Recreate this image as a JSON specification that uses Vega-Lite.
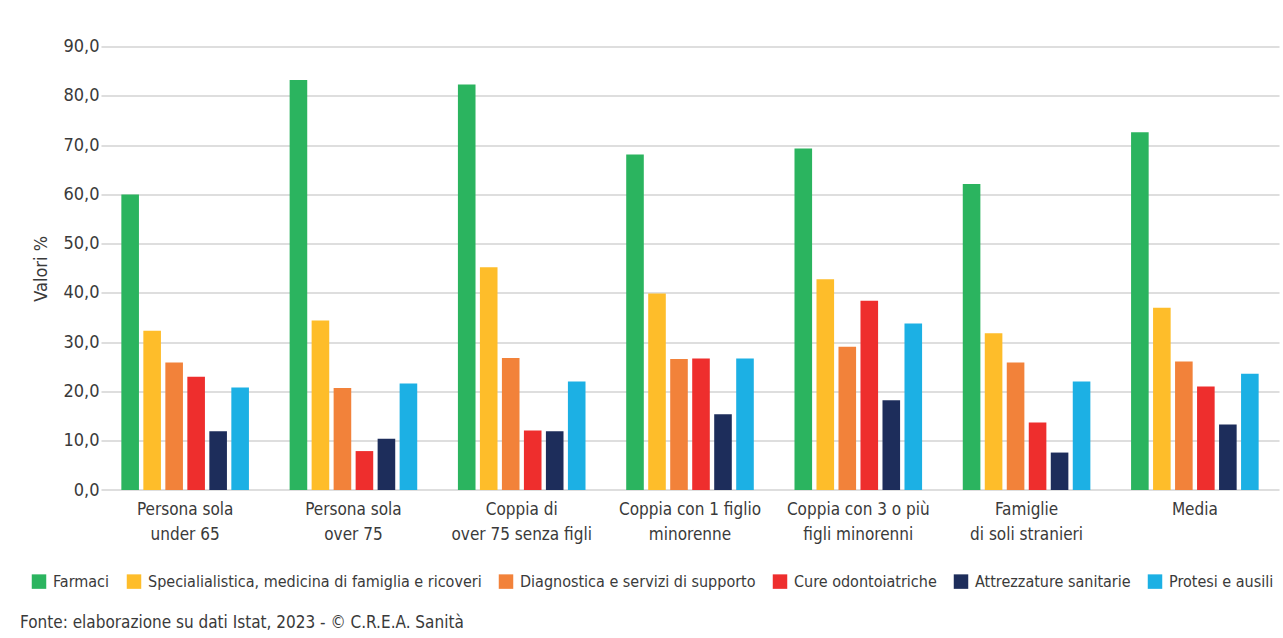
{
  "$schema": "https://vega.github.io/schema/vega-lite/v6.json",
  "autosize": {"type": "none"},
  "width": 1178,
  "height": 443.4,
  "padding": {"left": 101, "top": 46.6, "right": 4, "bottom": 148},
  "background": "white",
  "config": {
    "font": "DejaVu Sans Condensed, sans-serif",
    "view": {"stroke": null},
    "axis": {"labelColor": "#3a3a3a", "titleColor": "#3a3a3a", "labelFont": "DejaVu Sans Condensed, sans-serif", "titleFont": "DejaVu Sans Condensed, sans-serif"}
  },
  "title": {
    "text": "Fonte: elaborazione su dati Istat, 2023 - © C.R.E.A. Sanità",
    "orient": "bottom",
    "anchor": "start",
    "frame": "group",
    "dx": -81,
    "offset": 25,
    "fontSize": 17,
    "fontWeight": "normal",
    "color": "#3a3a3a",
    "font": "DejaVu Sans Condensed, sans-serif"
  },
  "data": {
    "values": [
      {"categoria": "Persona sola\nunder 65", "voce": "Farmaci", "valore": 60.0},
      {"categoria": "Persona sola\nunder 65", "voce": "Specialialistica, medicina di famiglia e ricoveri", "valore": 32.3},
      {"categoria": "Persona sola\nunder 65", "voce": "Diagnostica e servizi di supporto", "valore": 25.9},
      {"categoria": "Persona sola\nunder 65", "voce": "Cure odontoiatriche", "valore": 23.0},
      {"categoria": "Persona sola\nunder 65", "voce": "Attrezzature sanitarie", "valore": 11.9},
      {"categoria": "Persona sola\nunder 65", "voce": "Protesi e ausili", "valore": 20.8},
      {"categoria": "Persona sola\nover 75", "voce": "Farmaci", "valore": 83.2},
      {"categoria": "Persona sola\nover 75", "voce": "Specialialistica, medicina di famiglia e ricoveri", "valore": 34.4},
      {"categoria": "Persona sola\nover 75", "voce": "Diagnostica e servizi di supporto", "valore": 20.7},
      {"categoria": "Persona sola\nover 75", "voce": "Cure odontoiatriche", "valore": 7.9},
      {"categoria": "Persona sola\nover 75", "voce": "Attrezzature sanitarie", "valore": 10.4},
      {"categoria": "Persona sola\nover 75", "voce": "Protesi e ausili", "valore": 21.6},
      {"categoria": "Coppia di\nover 75 senza figli", "voce": "Farmaci", "valore": 82.3},
      {"categoria": "Coppia di\nover 75 senza figli", "voce": "Specialialistica, medicina di famiglia e ricoveri", "valore": 45.2},
      {"categoria": "Coppia di\nover 75 senza figli", "voce": "Diagnostica e servizi di supporto", "valore": 26.8},
      {"categoria": "Coppia di\nover 75 senza figli", "voce": "Cure odontoiatriche", "valore": 12.1},
      {"categoria": "Coppia di\nover 75 senza figli", "voce": "Attrezzature sanitarie", "valore": 11.9},
      {"categoria": "Coppia di\nover 75 senza figli", "voce": "Protesi e ausili", "valore": 22.0},
      {"categoria": "Coppia con 1 figlio\nminorenne", "voce": "Farmaci", "valore": 68.1},
      {"categoria": "Coppia con 1 figlio\nminorenne", "voce": "Specialialistica, medicina di famiglia e ricoveri", "valore": 39.9},
      {"categoria": "Coppia con 1 figlio\nminorenne", "voce": "Diagnostica e servizi di supporto", "valore": 26.6},
      {"categoria": "Coppia con 1 figlio\nminorenne", "voce": "Cure odontoiatriche", "valore": 26.7},
      {"categoria": "Coppia con 1 figlio\nminorenne", "voce": "Attrezzature sanitarie", "valore": 15.4},
      {"categoria": "Coppia con 1 figlio\nminorenne", "voce": "Protesi e ausili", "valore": 26.7},
      {"categoria": "Coppia con 3 o più\nfigli minorenni", "voce": "Farmaci", "valore": 69.3},
      {"categoria": "Coppia con 3 o più\nfigli minorenni", "voce": "Specialialistica, medicina di famiglia e ricoveri", "valore": 42.8},
      {"categoria": "Coppia con 3 o più\nfigli minorenni", "voce": "Diagnostica e servizi di supporto", "valore": 29.1},
      {"categoria": "Coppia con 3 o più\nfigli minorenni", "voce": "Cure odontoiatriche", "valore": 38.4},
      {"categoria": "Coppia con 3 o più\nfigli minorenni", "voce": "Attrezzature sanitarie", "valore": 18.2},
      {"categoria": "Coppia con 3 o più\nfigli minorenni", "voce": "Protesi e ausili", "valore": 33.8},
      {"categoria": "Famiglie\ndi soli stranieri", "voce": "Farmaci", "valore": 62.1},
      {"categoria": "Famiglie\ndi soli stranieri", "voce": "Specialialistica, medicina di famiglia e ricoveri", "valore": 31.8},
      {"categoria": "Famiglie\ndi soli stranieri", "voce": "Diagnostica e servizi di supporto", "valore": 25.9},
      {"categoria": "Famiglie\ndi soli stranieri", "voce": "Cure odontoiatriche", "valore": 13.7},
      {"categoria": "Famiglie\ndi soli stranieri", "voce": "Attrezzature sanitarie", "valore": 7.6},
      {"categoria": "Famiglie\ndi soli stranieri", "voce": "Protesi e ausili", "valore": 22.0},
      {"categoria": "Media", "voce": "Farmaci", "valore": 72.6},
      {"categoria": "Media", "voce": "Specialialistica, medicina di famiglia e ricoveri", "valore": 37.0},
      {"categoria": "Media", "voce": "Diagnostica e servizi di supporto", "valore": 26.1},
      {"categoria": "Media", "voce": "Cure odontoiatriche", "valore": 21.0},
      {"categoria": "Media", "voce": "Attrezzature sanitarie", "valore": 13.3},
      {"categoria": "Media", "voce": "Protesi e ausili", "valore": 23.6}
    ]
  },
  "mark": {"type": "bar"},
  "encoding": {
    "x": {
      "field": "categoria",
      "type": "nominal",
      "sort": null,
      "scale": {"paddingInner": 0, "paddingOuter": 0},
      "axis": {
        "title": null,
        "labelAngle": 0,
        "labelExpr": "split(datum.label, '\\n')",
        "labelFontSize": 17,
        "labelLineHeight": 25,
        "labelBaseline": "top",
        "labelPadding": 11,
        "ticks": false,
        "domain": false,
        "grid": false,
        "labelLimit": 300
      }
    },
    "xOffset": {
      "field": "voce",
      "type": "nominal",
      "sort": ["Farmaci", "Specialialistica, medicina di famiglia e ricoveri", "Diagnostica e servizi di supporto", "Cure odontoiatriche", "Attrezzature sanitarie", "Protesi e ausili"],
      "scale": {"paddingInner": 0.2, "paddingOuter": 0.925}
    },
    "y": {
      "field": "valore",
      "type": "quantitative",
      "scale": {"domain": [0, 90], "nice": false},
      "axis": {
        "title": "Valori %",
        "titleFontSize": 18,
        "titleFontWeight": "normal",
        "titlePadding": 12,
        "values": [0, 10, 20, 30, 40, 50, 60, 70, 80, 90],
        "labelExpr": "replace(format(datum.value, '.1f'), '.', ',')",
        "labelFontSize": 18,
        "labelPadding": 2,
        "ticks": false,
        "domain": false,
        "grid": true,
        "gridColor": "#d3d3d3",
        "gridWidth": 1.5
      }
    },
    "color": {
      "field": "voce",
      "type": "nominal",
      "scale": {
        "domain": ["Farmaci", "Specialialistica, medicina di famiglia e ricoveri", "Diagnostica e servizi di supporto", "Cure odontoiatriche", "Attrezzature sanitarie", "Protesi e ausili"],
        "range": ["#2bb45f", "#febd2a", "#f2823a", "#ee2e2d", "#1d2d5b", "#1cb0e4"]
      },
      "legend": {
        "title": null,
        "orient": "none",
        "direction": "horizontal",
        "columns": 6,
        "legendX": -70,
        "legendY": 527,
        "symbolType": "square",
        "symbolSize": 210,
        "symbolStrokeWidth": 0,
        "labelFontSize": 16,
        "labelColor": "#3a3a3a",
        "labelFont": "DejaVu Sans Condensed, sans-serif",
        "labelOffset": 6,
        "columnPadding": 16,
        "labelLimit": 400
      }
    }
  }
}
